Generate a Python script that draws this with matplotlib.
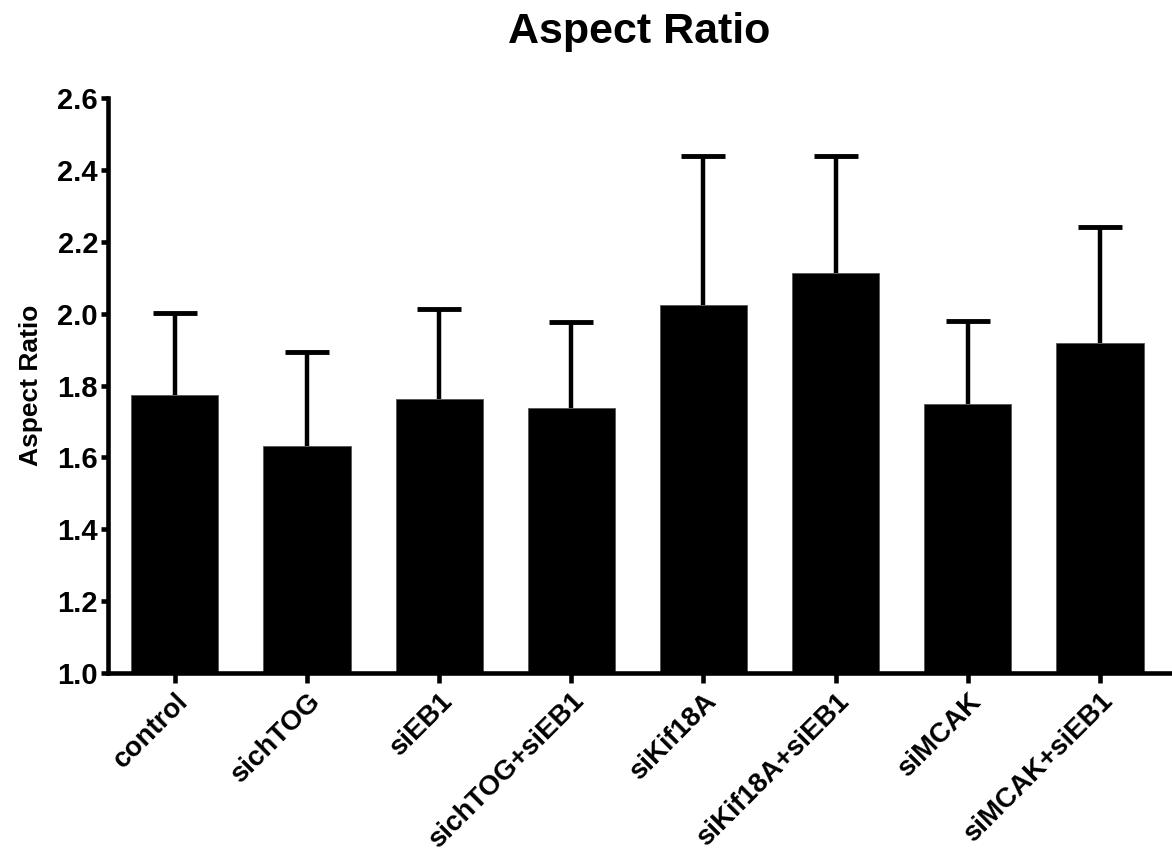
import numpy as np
import matplotlib
matplotlib.use('Agg')
import matplotlib.pyplot as plt

plt.rcParams['font.family'] = ['Liberation Sans', 'DejaVu Sans']
plt.rcParams['font.weight'] = 'bold'

# Data
conditions = ['control', 'sichTOG', 'siEB1', 'sichTOG+siEB1', 'siKif18A',
              'siKif18A+siEB1', 'siMCAK', 'siMCAK+siEB1']
means = [1.773, 1.632, 1.762, 1.737, 2.023, 2.114, 1.748, 1.917]
sd = [0.230, 0.262, 0.250, 0.239, 0.415, 0.324, 0.231, 0.323]
yticks = [1.0, 1.2, 1.4, 1.6, 1.8, 2.0, 2.2, 2.4, 2.6]

fig = plt.figure(figsize=(11.72, 8.52), dpi=100)
ax = fig.add_axes([0.092, 0.21, 0.908, 0.675])

x = np.arange(len(conditions))
ax.bar(x, means, width=0.66, color='black', edgecolor='#555555', linewidth=0.6, zorder=2)

# upper error bars only (hide the lower cap)
lower = np.zeros(len(sd))
eb = ax.errorbar(x, means, yerr=[lower, sd], fmt='none', ecolor='black',
                 elinewidth=3.2, capsize=16, capthick=3.5, zorder=1)
caps = eb[1]
if len(caps) == 2:
    caps[0].set_visible(False)

ax.set_ylim(1.0, 2.6)
ax.set_xlim(-0.507, 7.545)
ax.set_yticks(yticks)
ax.set_yticklabels([f'{t:.1f}' for t in yticks], fontsize=21, fontweight='bold')
ax.set_xticks(x)
ax.set_xticklabels(conditions, rotation=45, ha='right', rotation_mode='anchor',
                   fontsize=20, fontweight='bold')

for s in ['top', 'right']:
    ax.spines[s].set_visible(False)
for s in ['left', 'bottom']:
    ax.spines[s].set_linewidth(3.3)
ax.spines['bottom'].set_zorder(3)

ax.tick_params(axis='y', direction='out', length=5, width=3.3, pad=2)
ax.tick_params(axis='x', direction='out', length=7, width=3.3, pad=4)

ax.set_ylabel('Aspect Ratio', fontsize=19, fontweight='bold')
ax.yaxis.set_label_coords(-0.061, 0.5)

fig.text(0.545, 0.962, 'Aspect Ratio', ha='center', va='center',
         fontsize=31, fontweight='bold')

fig.savefig('out.png', dpi=100)
plt.close(fig)
